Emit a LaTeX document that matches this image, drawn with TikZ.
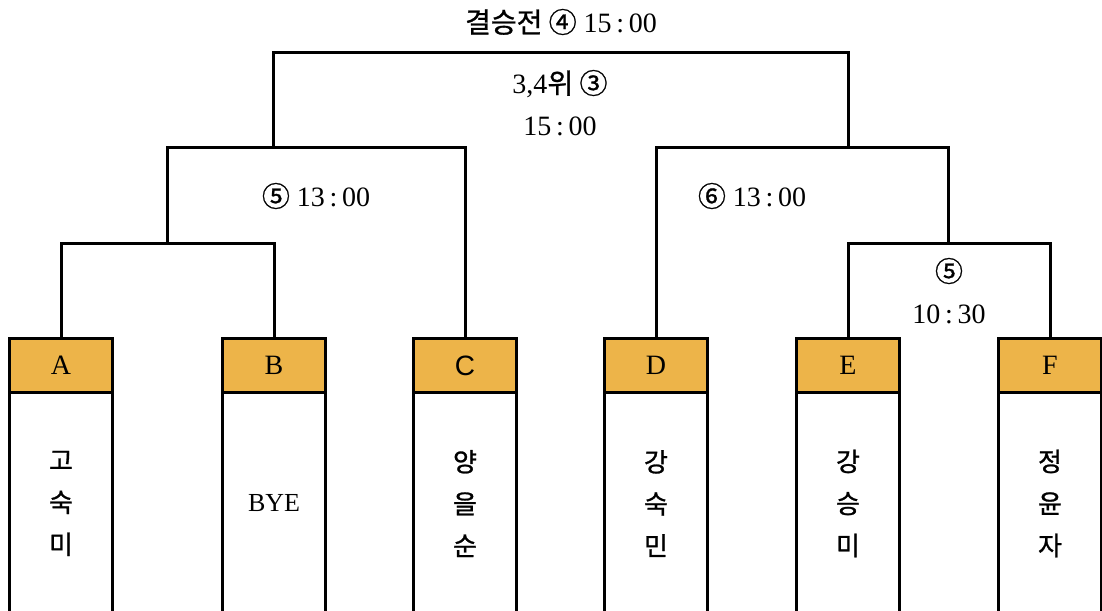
\documentclass[tikz,border=0pt]{standalone}
\usepackage{fontspec}
\setmainfont{Liberation Serif}
\newfontfamily\krfont[FakeBold=1]{Noto Sans CJK KR}
\newfontfamily\latinsans{Liberation Sans}
\usetikzlibrary{positioning}
\definecolor{seedgold}{RGB}{237,180,73}

\begin{document}
\begin{tikzpicture}[
        x=1pt, y=-1pt,
        seed/.style={
            rectangle,
            draw,
            line width=3pt,
            fill=seedgold,
            minimum width=103pt,
            minimum height=54pt,
            inner sep=0pt,
            outer sep=0pt,
            font=\fontsize{28}{30}\selectfont
        },
        player/.style={
            rectangle,
            draw,
            line width=3pt,
            fill=white,
            minimum width=103pt,
            minimum height=222pt,
            inner sep=0pt,
            outer sep=0pt,
            align=center,
            font=\krfont\fontsize{26}{42}\selectfont
        },
        timing/.style={
            align=center,
            inner sep=0pt,
            font=\fontsize{28}{42}\selectfont
        },
        bracket/.style={line width=3pt, line join=miter}
    ]

    \clip (0,0) rectangle (1102,610);

    % seeds
    \node[seed] (hA) at (61,365.5)   {A};
    \node[seed] (hB) at (274,365.5)  {B};
    \node[seed] (hC) at (465,365.5)  {\latinsans C};
    \node[seed] (hD) at (656,365.5)  {D};
    \node[seed] (hE) at (848,365.5)  {E};
    \node[seed] (hF) at (1050,365.5) {F};

    % players
    \node[player, below=0pt of hA] (pA) {고\\숙\\미};
    \node[player, below=0pt of hB] (pB) {\rmfamily BYE};
    \node[player, below=0pt of hC] (pC) {양\\을\\순};
    \node[player, below=0pt of hD] (pD) {강\\숙\\민};
    \node[player, below=0pt of hE] (pE) {강\\승\\미};
    \node[player, below=0pt of hF] (pF) {정\\윤\\자};

    % junctions
    \coordinate (jAB)  at (167,243);
    \coordinate (jABC) at (316,147);
    \coordinate (jEF)  at (948,243);
    \coordinate (jDEF) at (800,147);
    \coordinate (sL)   at (273,147);
    \coordinate (sR)   at (848,147);
    \coordinate (top)  at (560,53);

    \draw[bracket] (hA.north) |- (jAB) -| (hB.north);
    \draw[bracket] (jAB) |- (jABC) -| (hC.north);
    \draw[bracket] (hE.north) |- (jEF) -| (hF.north);
    \draw[bracket] (jEF) |- (jDEF) -| (hD.north);
    \draw[bracket] (sL) |- (top) -| (sR);

    % match times
    \node[timing] (final) at (561,22)  {{\krfont 결승전 ④}\ 15\,:\,00};
    \node[timing] (third) at (560,103) {3,4{\krfont 위 ③}\\15\,:\,00};
    \node[timing] (semiL) at (316,196) {{\krfont ⑤}\ 13\,:\,00};
    \node[timing] (semiR) at (752,196) {{\krfont ⑥}\ 13\,:\,00};
    \node[timing] (qEF)   at (949,291) {{\krfont ⑤}\\10\,:\,30};

    \end{tikzpicture}
\end{document}
